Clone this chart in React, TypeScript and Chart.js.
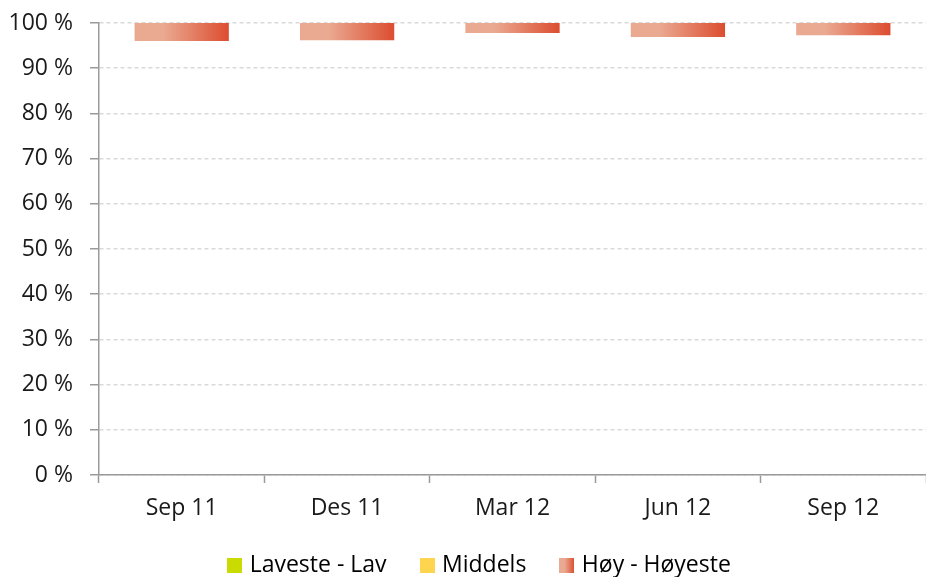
import React, { useEffect, useRef } from "react";
import { Chart, registerables } from "chart.js";

Chart.register(...registerables);

const categories = ["Sep 11", "Des 11", "Mar 12", "Jun 12", "Sep 12"];
const lavesteLav = [0, 0, 0, 0, 0];
const middels = [0, 0, 0, 0, 0];
const hoyHoyeste = [4.0, 3.8, 2.2, 3.1, 2.7];
const seriesNames = ["Laveste - Lav", "Middels", "Høy - Høyeste"];

const GREEN = "#C9DB00";
const YELLOW = "#FFD44F";
const RED_LIGHT = "#EAAA92";
const RED_DARK = "#DC4D30";
const FONT = "'Open Sans', Lato, sans-serif";
const FONT_SIZE = 23;
const BAR_PCT = 0.57;
const BOX = 15;

function icon(draw: (c: CanvasRenderingContext2D) => void) {
  const c = document.createElement("canvas");
  c.width = BOX;
  c.height = BOX;
  const g = c.getContext("2d");
  if (g) draw(g);
  return c;
}

const legendShift = {
  id: "legendShift",
  beforeDraw(chart: any) {
    const l = chart.legend;
    if (l) {
      const h = l.bottom - l.top;
      l.left = 36;
      l.right = 926;
      l.top = 517;
      l.bottom = 517 + h;
    }
  },
};

export default function App() {
  const ref = useRef<HTMLCanvasElement | null>(null);

  useEffect(() => {
    if (!ref.current) return;
    const icons = [
      icon((g) => {
        g.fillStyle = GREEN;
        g.fillRect(0, 0, BOX, BOX);
      }),
      icon((g) => {
        g.fillStyle = YELLOW;
        g.fillRect(0, 0, BOX, BOX);
      }),
      icon((g) => {
        const gr = g.createLinearGradient(0, 0, BOX, 0);
        gr.addColorStop(0, RED_LIGHT);
        gr.addColorStop(0.35, RED_LIGHT);
        gr.addColorStop(1, RED_DARK);
        g.fillStyle = gr;
        g.fillRect(0, 0, BOX, BOX);
      }),
    ];

    const hoyFill = (ctx: any) => {
      const chart = ctx.chart;
      const xs = chart.scales && chart.scales.x;
      if (!chart.chartArea || !xs) return RED_DARK;
      const center = xs.getPixelForValue(ctx.dataIndex);
      const w = (xs.width / categories.length) * BAR_PCT;
      const gr = chart.ctx.createLinearGradient(center - w / 2, 0, center + w / 2, 0);
      gr.addColorStop(0, RED_LIGHT);
      gr.addColorStop(0.3, RED_LIGHT);
      gr.addColorStop(1, RED_DARK);
      return gr;
    };

    const chart = new Chart(ref.current, {
      type: "bar",
      data: {
        labels: categories,
        datasets: [
          { label: seriesNames[0], data: lavesteLav, backgroundColor: GREEN, borderWidth: 0 },
          { label: seriesNames[1], data: middels, backgroundColor: YELLOW, borderWidth: 0 },
          {
            label: seriesNames[2],
            data: hoyHoyeste.map((v) => [100 - v, 100]) as any,
            backgroundColor: hoyFill as any,
            borderWidth: 0,
          },
        ],
      },
      plugins: [legendShift],
      options: {
        animation: false,
        responsive: false,
        devicePixelRatio: 1,
        categoryPercentage: 1,
        barPercentage: BAR_PCT,
        layout: { padding: { left: -8, right: -8, top: 23, bottom: -18 } },
        plugins: {
          tooltip: { enabled: false },
          legend: {
            position: "bottom",
            labels: {
              usePointStyle: true,
              boxWidth: 7,
              boxHeight: 7,
              padding: 37,
              color: "#1a1a1a",
              font: { family: FONT, size: FONT_SIZE },
              generateLabels: (c: any) =>
                c.data.datasets.map((ds: any, i: number) => ({
                  text: ds.label,
                  pointStyle: icons[i],
                  fillStyle: "transparent",
                  strokeStyle: "transparent",
                  lineWidth: 0,
                  hidden: false,
                  datasetIndex: i,
                })),
            },
          },
        },
        scales: {
          x: {
            stacked: true,
            grid: {
              display: true,
              drawOnChartArea: false,
              drawTicks: true,
              tickLength: 8,
              tickColor: "#9a9a9a",
              tickWidth: 1.5,
              offset: true,
            },
            border: { display: true, color: "#9a9a9a", width: 1.5 },
            ticks: {
              color: "#1a1a1a",
              font: { family: FONT, size: FONT_SIZE },
              padding: 12,
              maxRotation: 0,
            },
            afterFit: (s: any) => {
              s.height = 50;
              s.paddingLeft = 0;
              s.paddingRight = 0;
            },
          },
          y: {
            stacked: false,
            min: 0,
            max: 100,
            grid: {
              color: "#d9d9d9",
              lineWidth: 1.5,
              drawTicks: true,
              tickLength: 9,
              tickColor: "#9a9a9a",
              tickWidth: 1.5,
            },
            border: { display: true, color: "#9a9a9a", width: 1.5, dash: [4, 3] },
            ticks: {
              stepSize: 10,
              padding: 17,
              color: "#1a1a1a",
              font: { family: FONT, size: FONT_SIZE },
              callback: (v: any) => `${v} %`,
            },
            afterFit: (s: any) => {
              s.width = 107;
              s.paddingTop = 0;
              s.paddingBottom = 0;
            },
          },
        },
      },
    });
    return () => chart.destroy();
  }, []);

  return (
    <div style={{ position: "absolute", left: 0, top: 0, width: 926, height: 577, overflow: "hidden", background: "#fff" }}>
      <canvas ref={ref} width={926} height={577} />
    </div>
  );
}
